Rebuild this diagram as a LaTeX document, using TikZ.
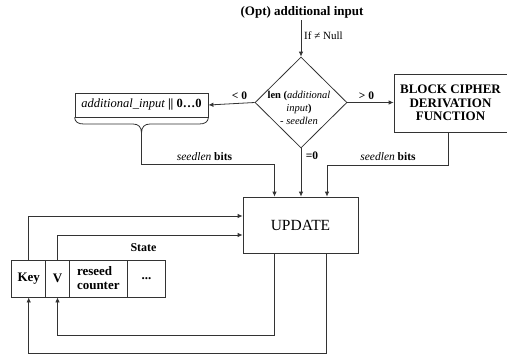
\documentclass[tikz,border=0pt]{standalone}
\usepackage{fontspec}
\setmainfont{Liberation Serif}
\usetikzlibrary{shapes.geometric,arrows.meta}
\begin{document}
\begin{tikzpicture}[x=1pt,y=-1pt,
  ln/.style={line width=0.8pt, draw=black!80},
  arr/.style={ln,-{Latex[length=5pt,width=4.5pt]}},
  box/.style={draw=black!80, line width=0.8pt, inner sep=0pt},
  lbl/.style={inner sep=0pt, font=\fontsize{11}{13}\selectfont},
  blbl/.style={inner sep=0pt, font=\bfseries\fontsize{11.5}{13}\selectfont},
  cell/.style={box, minimum height=37pt, font=\bfseries\fontsize{13}{14}\selectfont}
]
\useasboundingbox (0,0) rectangle (507,357);

% nodes
\node[inner sep=0pt, font=\bfseries\fontsize{13}{15}\selectfont] (title) at (302,12) {(Opt) additional input};
\coordinate (tin) at (301,20);
\node[box, shape=diamond, minimum width=92pt, minimum height=91pt] (dia) at (301,102.5) {};
\node[align=center, inner sep=0pt, font=\fontsize{10.5}{13}\selectfont] (diat) at (299,108) {\textbf{len (}\textit{additional}\\ \textit{input}\textbf{)}\\ - \textit{seedlen}};
\node[box, minimum width=133pt, minimum height=24pt, font=\fontsize{12.5}{14}\selectfont] (pad) at (141.5,105) {\textit{additional\_input} \textbf{|\kern-0.3pt|} \textbf{0…0}};
\node[box, minimum width=113pt, minimum height=58pt, align=center, font=\bfseries\fontsize{13}{13.5}\selectfont] (bc) at (450.5,103) {BLOCK CIPHER\\DERIVATION\\FUNCTION};
\node[box, minimum width=115pt, minimum height=56pt, font=\fontsize{15.5}{17}\selectfont] (up) at (300.5,225) {UPDATE};

\node[cell, minimum width=34pt] (key) at (28.7,278.5) {Key};
\node[cell, minimum width=23.6pt] (v) at (57.5,278.5) {V};
\node[cell, minimum width=58pt, align=left] (rc) at (98.3,278.5) {reseed\\counter};
\node[cell, minimum width=38.4pt] (dots) at (146.5,278.5) {...};
\node[inner sep=0pt, font=\bfseries\fontsize{12}{13}\selectfont] (state) at (143.5,248) {State};

% labels
\node[lbl, anchor=west] (ifn) at (304,36) {If ≠ Null};
\node[blbl] (lt) at (239.5,96) {< 0};
\node[blbl] (gt) at (366.5,96) {> 0};
\node[blbl] (eq) at (312,156) {=0};
\node[lbl, font=\fontsize{11.5}{13}\selectfont] (sl) at (204.5,157) {\textit{seedlen} \textbf{bits}};
\node[lbl, font=\fontsize{11.5}{13}\selectfont] (sr) at (388,157) {\textit{seedlen} \textbf{bits}};

% brace under padded input
\coordinate (btip) at (141.5,133);
\draw[ln] (pad.south west) .. controls (75,122) and (78,124) .. (84,124) -- (133,124)
  .. controls (138.5,124) and (141.5,127) .. (btip)
  .. controls (141.5,127) and (144.5,124) .. (150,124) -- (199,124)
  .. controls (205,124) and (208,122) .. (pad.south east);

% connectors
\coordinate (L1) at (274.5,164);
\coordinate (R1) at (327,165);
\draw[arr] (tin) -- (dia.north);
\draw[arr] (dia.west) -- (pad.east);
\draw[arr] (dia.east) -- (dia.east -| bc.west);
\draw[arr] (dia.south) -- (dia.south |- up.north);
\draw[arr] (btip) |- (L1) -- (L1 |- up.north);
\draw[arr] ([xshift=-2.5pt]bc.south) |- (R1) -- (R1 |- up.north);
\draw[arr] (key.north) |- ([yshift=9pt]up.west);
\draw[arr] (v.north) |- ([yshift=-10pt]up.west);
\draw[arr] ([xshift=-26.2pt]up.south) -- ++(0,82) -| (v.south);
\draw[arr] ([xshift=26.2pt]up.south) -- ++(0,100) -| (key.south);
\end{tikzpicture}
\end{document}
